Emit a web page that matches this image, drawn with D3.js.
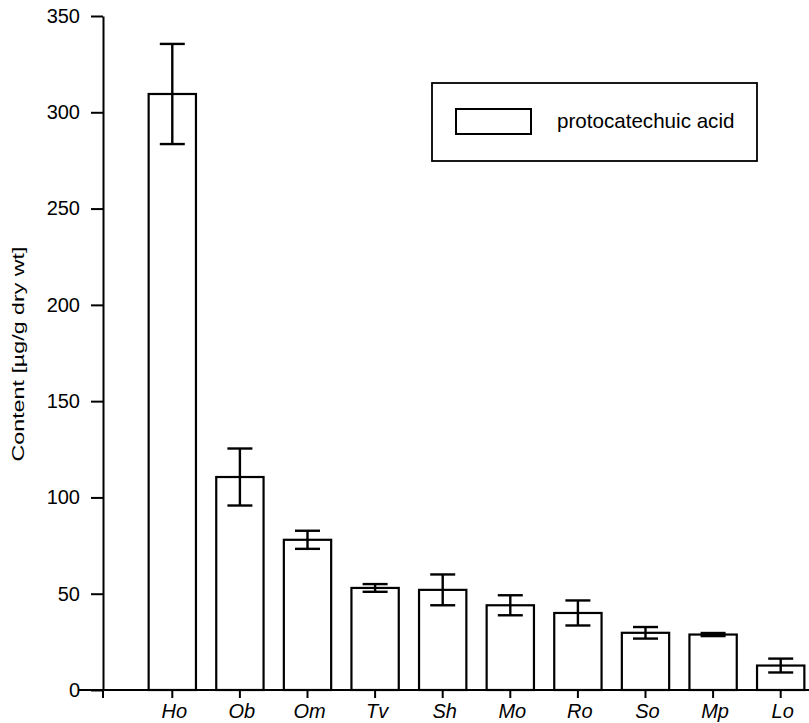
<!DOCTYPE html>
<meta charset="utf-8">
<style>
body { margin: 0; background: #fff; }
text { font-family: "Liberation Sans", Arial, sans-serif; fill: #000; }
.axis path, .axis line { stroke: #000; stroke-width: 2; }
.bar { fill: #fff; stroke: #000; stroke-width: 2.2; }
.err { stroke: #000; stroke-width: 2.4; }
</style>
<body>
<svg width="809" height="723"></svg>
<script src="https://cdn.jsdelivr.net/npm/d3@7"></script>
<script>

// data
var species = ["Ho", "Ob", "Om", "Tv", "Sh", "Mo", "Ro", "So", "Mp", "Lo"];
var content = [309.5, 110.6, 78, 53, 52, 44, 40, 29.7, 28.8, 12.7];
var sd      = [26, 14.8, 4.7, 2, 8, 5.2, 6.5, 3, 0.8, 3.6];
var yTicks  = [0, 50, 100, 150, 200, 250, 300, 350];
var legendLabel = "protocatechuic acid";
var yLabel = "Content [\u00b5g/g dry wt]";

var svg = d3.select("svg");

var x = d3.scaleBand().domain(species).range([138.5, 814.5])
    .paddingInner(0.3).paddingOuter(0.15);
var y = d3.scaleLinear().domain([0, 350]).range([690, 16]);

var data = species.map(function(s, i) { return {id: s, v: content[i], e: sd[i]}; });

// bars
svg.selectAll(".bar")
    .data(data)
  .enter().append("rect")
    .attr("class", "bar")
    .attr("x", function(d) { return x(d.id); })
    .attr("y", function(d) { return y(d.v); })
    .attr("width", x.bandwidth())
    .attr("height", function(d) { return y(0) - y(d.v); });

// error bars
var capW = 12.5;
var eb = svg.selectAll(".eb").data(data).enter().append("g").attr("class", "eb");
eb.append("line").attr("class", "err")
    .attr("x1", function(d) { return x(d.id) + x.bandwidth() / 2; })
    .attr("x2", function(d) { return x(d.id) + x.bandwidth() / 2; })
    .attr("y1", function(d) { return y(d.v + d.e); })
    .attr("y2", function(d) { return y(d.v - d.e); });
[1, -1].forEach(function(sgn) {
  eb.append("line").attr("class", "err")
      .attr("x1", function(d) { return x(d.id) + x.bandwidth() / 2 - capW; })
      .attr("x2", function(d) { return x(d.id) + x.bandwidth() / 2 + capW; })
      .attr("y1", function(d) { return y(d.v + sgn * d.e); })
      .attr("y2", function(d) { return y(d.v + sgn * d.e); });
});

// y axis
var yAxis = svg.append("g")
    .attr("class", "axis")
    .attr("transform", "translate(103,0)")
    .call(d3.axisLeft(y).tickValues(yTicks).tickSizeInner(12).tickSizeOuter(0).tickPadding(11));
yAxis.selectAll("text").style("font-size", "20px");

// x axis - line runs from left of y axis out past the right edge
var xAxis = svg.append("g")
    .attr("class", "axis")
    .attr("transform", "translate(0,690)")
    .call(d3.axisBottom(x).tickSizeInner(8).tickSizeOuter(0).tickPadding(6));
xAxis.select(".domain").remove();
xAxis.append("line")
    .attr("x1", 79).attr("x2", 809)
    .attr("y1", 0).attr("y2", 0)
    .style("stroke", "#000").style("stroke-width", 2);
xAxis.append("line")
    .attr("x1", 103).attr("x2", 103)
    .attr("y1", 0).attr("y2", 8)
    .style("stroke", "#000").style("stroke-width", 2);
xAxis.selectAll(".tick text")
    .style("font-size", "20px")
    .style("font-style", "italic")
    .attr("dx", "2");

// y axis title
svg.append("text")
    .attr("transform", "translate(24,354) rotate(-90)")
    .attr("text-anchor", "middle")
    .style("font-size", "17px")
    .attr("textLength", 215)
    .attr("lengthAdjust", "spacingAndGlyphs")
    .text(yLabel);

// legend
var leg = svg.append("g");
leg.append("rect")
    .attr("x", 432).attr("y", 83).attr("width", 325).attr("height", 78)
    .style("fill", "none").style("stroke", "#000").style("stroke-width", 1.8);
leg.append("rect")
    .attr("x", 456).attr("y", 109).attr("width", 75).attr("height", 25)
    .style("fill", "#fff").style("stroke", "#000").style("stroke-width", 2);
leg.append("text")
    .attr("x", 557).attr("y", 128)
    .style("font-size", "20.6px")
    .text(legendLabel);

</script>
</body>
